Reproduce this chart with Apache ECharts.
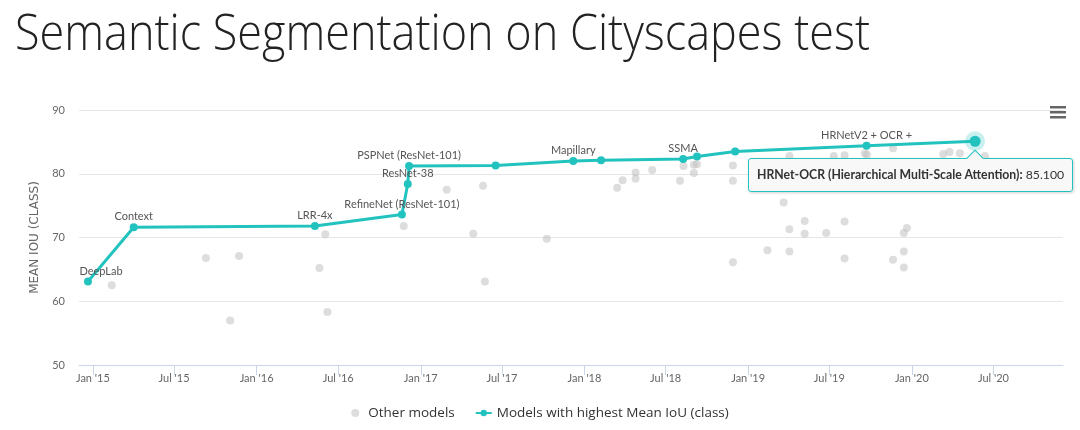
<!DOCTYPE html>
<html><head><meta charset="utf-8">
<script src="https://cdn.jsdelivr.net/npm/echarts@6/dist/echarts.min.js"></script>
<style>html,body{margin:0;padding:0;background:#fff}#c{width:1080px;height:430px}</style>
</head><body><div id="c"></div>
<script>
const titleText = 'Semantic Segmentation on Cityscapes test';
const yAxisTitle = 'MEAN IOU (CLASS)';
const otherSeriesName = 'Other models';
const bestSeriesName = 'Models with highest Mean IoU (class)';

const bestDates = ['2014-12-21','2015-04-02','2016-05-10','2016-11-20','2016-12-03','2016-12-06','2017-06-17','2017-12-07','2018-02-07','2018-08-09','2018-09-09','2018-12-03','2019-09-22','2020-05-21'];
const bestValues = [63.1, 71.6, 71.8, 73.6, 78.4, 81.2, 81.3, 82.0, 82.1, 82.3, 82.7, 83.5, 84.4, 85.1];
const bestNames = ['DeepLab','Context','LRR-4x','RefineNet (ResNet-101)','ResNet-38','PSPNet (ResNet-101)','','Mapillary','','SSMA','','','HRNetV2 + OCR +','HRNet-OCR (Hierarchical Multi-Scale Attention)'];
const hoveredIndex = 13;

const otherDates = ['2015-02-12','2015-09-10','2015-11-23','2015-11-03','2016-06-02','2016-05-20','2016-06-07','2016-11-24','2017-02-28','2017-05-20','2017-04-28','2017-05-24','2017-10-09','2018-03-15','2018-03-27','2018-04-25','2018-04-25','2018-06-01','2018-08-02','2018-08-10','2018-09-02','2018-09-02','2018-09-09','2018-11-28','2018-11-28','2018-11-28','2019-02-13','2019-03-21','2019-04-03','2019-04-03','2019-04-03','2019-05-07','2019-05-07','2019-06-24','2019-07-11','2019-08-04','2019-08-04','2019-08-04','2019-09-18','2019-09-23','2019-11-20','2019-11-20','2019-12-14','2019-12-14','2019-12-14','2019-12-21','2020-03-11','2020-03-25','2020-04-17','2020-05-21','2020-06-12'];
const otherValues = [62.5, 66.8, 67.1, 57.0, 70.5, 65.2, 58.3, 71.8, 77.5, 78.1, 70.6, 63.1, 69.8, 77.8, 79.0, 80.2, 79.2, 80.6, 78.9, 81.2, 80.1, 81.4, 81.5, 81.3, 78.9, 66.1, 68.0, 75.5, 82.8, 71.3, 67.8, 72.6, 70.6, 70.7, 82.8, 82.9, 72.5, 66.7, 83.2, 83.0, 84.0, 66.5, 67.8, 65.3, 70.7, 71.5, 83.1, 83.4, 83.2, 82.8, 82.8];

const xTickDates = ['2015-01-01','2015-07-01','2016-01-01','2016-07-01','2017-01-01','2017-07-01','2018-01-01','2018-07-01','2019-01-01','2019-07-01','2020-01-01','2020-07-01'];
const xTickLabels = ["Jan '15","Jul '15","Jan '16","Jul '16","Jan '17","Jul '17","Jan '18","Jul '18","Jan '19","Jul '19","Jan '20","Jul '20"];
const xRange = ['2014-12-01','2020-12-03'];
const yTicks = [50, 60, 70, 80, 90];

const TEAL = '#22c3bf';
const FONT = 'Lato, "Open Sans", sans-serif';
const ts = s => Date.parse(s);
const xTickTs = xTickDates.map(ts);

const mctx = document.createElement('canvas').getContext('2d');
const titleFont = '300 50px "Open Sans", Lato, sans-serif';
mctx.font = titleFont;
const titleScale = 855 / mctx.measureText(titleText).width;

const chart = echarts.init(document.getElementById('c'), null, {renderer: 'canvas'});

const bestData = bestDates.map((d, i) => {
  const item = { value: [ts(d), bestValues[i]], name: bestNames[i] };
  item.label = { show: !!bestNames[i] && i !== hoveredIndex };
  if (i === hoveredIndex) {
    item.symbolSize = 11;
    item.itemStyle = { color: TEAL, borderColor: 'rgba(34,195,191,0.25)', borderWidth: 9 };
  }
  return item;
});
const otherData = otherDates.map((d, i) => [ts(d), otherValues[i]]);

const option = {
  animation: false,
  textStyle: { fontFamily: FONT },
  graphic: [
    { type: 'text', x: 15, y: 11, scaleX: titleScale,
      style: { text: titleText, font: titleFont, fill: '#222', verticalAlign: 'top' } },
    { type: 'group', right: 14, top: 106, children: [
      { type: 'rect', shape: { x: 0, y: 0, width: 16, height: 2.5 }, style: { fill: '#666' } },
      { type: 'rect', shape: { x: 0, y: 5, width: 16, height: 2.5 }, style: { fill: '#666' } },
      { type: 'rect', shape: { x: 0, y: 10, width: 16, height: 2.5 }, style: { fill: '#666' } }
    ]}
  ],
  grid: { left: 79, right: 17, top: 110, bottom: 65, containLabel: false },
  xAxis: {
    type: 'value',
    min: ts(xRange[0]), max: ts(xRange[1]),
    axisLine: { show: true, lineStyle: { color: '#ccd6eb', width: 1 } },
    axisTick: { show: true, length: 10, lineStyle: { color: '#ccd6eb' }, customValues: xTickTs },
    axisLabel: {
      customValues: xTickTs, color: '#666', fontSize: 11, margin: 8, fontFamily: FONT,
      showMinLabel: true, showMaxLabel: true,
      formatter: v => { const k = xTickTs.indexOf(v); return k >= 0 ? xTickLabels[k] : ''; }
    },
    splitLine: { show: false }
  },
  yAxis: {
    type: 'value', min: yTicks[0], max: yTicks[yTicks.length - 1], interval: 10,
    name: yAxisTitle, nameLocation: 'middle', nameGap: 34, nameRotate: 90,
    nameTextStyle: { color: '#666', fontSize: 12, fontFamily: '"DejaVu Sans", sans-serif' },
    axisLine: { show: false }, axisTick: { show: false },
    axisLabel: { color: '#666', fontSize: 11, margin: 14, fontFamily: FONT },
    splitLine: { lineStyle: { color: '#e6e6e6', width: 1 } }
  },
  legend: {
    bottom: 5, left: 'center', itemGap: 20, itemWidth: 16, itemHeight: 8,
    textStyle: { color: '#333', fontSize: 13.5, fontFamily: '"Open Sans", sans-serif' },
    data: [
      { name: otherSeriesName, icon: 'circle' },
      { name: bestSeriesName }
    ]
  },
  tooltip: {
    trigger: 'item', triggerOn: 'none', alwaysShowContent: true, transitionDuration: 0,
    backgroundColor: 'rgba(247,247,247,0.92)', borderColor: TEAL, borderWidth: 1,
    padding: [7, 8],
    textStyle: { color: '#333', fontSize: 12.25, fontFamily: FONT },
    extraCssText: 'box-shadow:1px 1px 3px rgba(0,0,0,0.18);border-radius:3px;overflow:visible;',
    position: (point, params, dom, rect, size) => [point[0] - 227, point[1] + 16.5],
    formatter: p => '<div style="position:absolute;left:220px;top:-7px;width:11px;height:11px;background:#f7f7f7;border-left:1px solid ' + TEAL + ';border-top:1px solid ' + TEAL + ';transform:rotate(45deg)"></div>' +
      '<span style="position:relative"><b>' + p.name + ':</b> ' + p.value[1].toFixed(3) + '</span>'
  },
  series: [
    {
      name: otherSeriesName, type: 'scatter', data: otherData, symbol: 'circle', symbolSize: 8,
      itemStyle: { color: 'rgba(190,190,190,0.65)' }, z: 2, silent: true
    },
    {
      name: bestSeriesName, type: 'line', data: bestData, symbol: 'circle', symbolSize: 8,
      showAllSymbol: true,
      lineStyle: { color: TEAL, width: 3 }, itemStyle: { color: TEAL },
      label: { show: true, position: 'top', distance: 1, color: '#555', fontSize: 11, fontFamily: FONT,
               formatter: p => p.name },
      labelLayout: p => (p.dataIndex === 0 ? { dx: 13, hideOverlap: false } : { hideOverlap: false }),
      z: 3
    }
  ]
};
chart.setOption(option);
chart.dispatchAction({ type: 'showTip', seriesIndex: 1, dataIndex: hoveredIndex });
</script>
</body></html>
